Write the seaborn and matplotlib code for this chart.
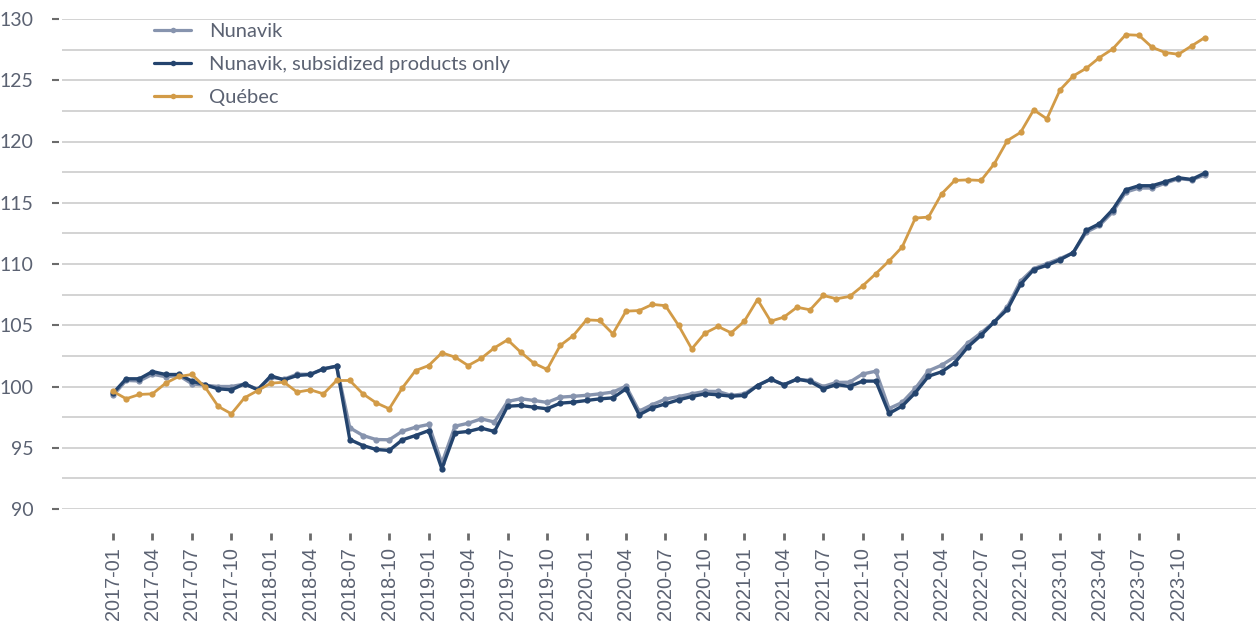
import numpy as np
import pandas as pd
import matplotlib
matplotlib.use("Agg")
import matplotlib.pyplot as plt
from matplotlib.ticker import MultipleLocator, FixedLocator
import seaborn as sns

months = pd.period_range("2017-01", "2023-12", freq="M").strftime("%Y-%m").tolist()

nunavik = [99.27, 100.5, 100.45, 101.0, 100.8, 100.9, 100.22, 100.1, 100.0, 100.0, 100.2, 99.78,
           100.75, 100.6, 101.0, 101.0, 101.44, 101.66, 96.63, 96.0, 95.67, 95.65, 96.35, 96.68,
           96.9, 93.74, 96.76, 97.0, 97.36, 97.1, 98.78, 99.0, 98.86, 98.7, 99.13, 99.2,
           99.28, 99.4, 99.54, 100.03, 97.99, 98.52, 98.97, 99.18, 99.4, 99.6, 99.6, 99.27,
           99.4, 100.08, 100.6, 100.14, 100.6, 100.49, 100.0, 100.33, 100.35, 101.02, 101.25, 98.2,
           98.7, 99.84, 101.28, 101.74, 102.42, 103.56, 104.38, 105.27, 106.5, 108.6, 109.62, 110.03,
           110.44, 110.92, 112.6, 113.15, 114.24, 115.87, 116.2, 116.2, 116.6, 116.96, 116.87, 117.26]

nunavik_sub = [99.45, 100.63, 100.63, 101.22, 100.98, 100.98, 100.44, 100.13, 99.81, 99.73, 100.22, 99.73,
               100.87, 100.54, 100.9, 100.98, 101.44, 101.66, 95.67, 95.18, 94.86, 94.78, 95.65, 96.0,
               96.4, 93.28, 96.22, 96.33, 96.6, 96.33, 98.39, 98.45, 98.31, 98.18, 98.64, 98.72,
               98.86, 98.99, 99.07, 99.81, 97.69, 98.26, 98.58, 98.91, 99.18, 99.4, 99.32, 99.21,
               99.27, 100.08, 100.6, 100.14, 100.6, 100.41, 99.81, 100.16, 100.0, 100.44, 100.44, 97.8,
               98.4, 99.49, 100.84, 101.2, 101.93, 103.24, 104.19, 105.27, 106.3, 108.34, 109.54, 109.89,
               110.35, 110.92, 112.75, 113.29, 114.43, 116.06, 116.39, 116.39, 116.71, 117.04, 116.9, 117.42]

quebec = [99.6, 99.0, 99.35, 99.4, 100.27, 100.82, 100.98, 99.95, 98.37, 97.77, 99.08, 99.67,
          100.27, 100.35, 99.54, 99.73, 99.4, 100.49, 100.49, 99.4, 98.67, 98.18, 99.89, 101.3,
          101.71, 102.75, 102.4, 101.71, 102.3, 103.16, 103.81, 102.8, 101.9, 101.39, 103.35, 104.16,
          105.44, 105.39, 104.3, 106.15, 106.2, 106.7, 106.6, 104.98, 103.07, 104.35, 104.9, 104.38,
          105.33, 107.1, 105.33, 105.66, 106.47, 106.26, 107.43, 107.16, 107.35, 108.22, 109.21, 110.25,
          111.39, 113.75, 113.83, 115.73, 116.82, 116.87, 116.82, 118.18, 120.08, 120.74, 122.58, 121.85,
          124.21, 125.35, 125.98, 126.85, 127.55, 128.72, 128.67, 127.69, 127.26, 127.12, 127.8, 128.48]

series_names = ["Nunavik", "Nunavik, subsidized products only", "Québec"]
colors = ["#8794ae", "#24446e", "#d29b47"]
y_ticks = [90, 95, 100, 105, 110, 115, 120, 125, 130]

idx = np.arange(len(months))
df = pd.DataFrame({
    "idx": np.tile(idx, 3),
    "value": nunavik + nunavik_sub + quebec,
    "series": np.repeat(series_names, len(months)),
})

sns.set_theme(style="white")
plt.rcParams["font.family"] = ["Lato", "DejaVu Sans"]
text_color = "#5b6272"

fig = plt.figure(figsize=(12.56, 6.24), dpi=100)
ax = fig.add_axes([62 / 1256, 1 - 509 / 624, 1 - 62 / 1256, (509 - 19) / 624])

sns.lineplot(data=df, x="idx", y="value", hue="series", hue_order=series_names,
             palette=dict(zip(series_names, colors)), marker="o", markersize=4.5,
             markeredgewidth=0, linewidth=2.3, ax=ax, legend=True)
for ln, lw in zip(ax.lines[:3], [2.4, 2.4, 2.0]):
    ln.set_linewidth(lw)

for s in ax.spines.values():
    s.set_visible(False)
ax.spines["bottom"].set_position(("outward", 17.3))
ax.spines["left"].set_position(("outward", 2.2))

ax.set_xlim(-3.88, 86.9)
ax.set_ylim(90, 130)
ax.yaxis.set_major_locator(FixedLocator(y_ticks))
ax.yaxis.set_minor_locator(MultipleLocator(2.5))
ax.grid(False)
ax.grid(axis="y", which="both", color="#d0d0d0", linewidth=1.3)
ax.set_axisbelow(True)

tick_pos = idx[::3]
ax.set_xticks(tick_pos)
ax.set_xticklabels([months[i] for i in tick_pos])
ax.set_yticks(y_ticks)
ax.set_yticklabels([str(v) for v in y_ticks])
for lab in ax.get_xticklabels():
    lab.set_rotation(90)
    lab.set_family(["Liberation Sans", "DejaVu Sans"])
    lab.set_fontsize(14.3)
    lab.set_color(text_color)
for lab in ax.get_yticklabels():
    lab.set_fontsize(14)
    lab.set_color(text_color)

ax.tick_params(axis="x", which="major", direction="out", length=5, width=2.0, color="#6b6b6b",
               pad=5, bottom=True)
ax.tick_params(axis="y", which="major", direction="out", length=5, width=1.5, color="#6b6b6b",
               pad=13.5, left=True)
ax.tick_params(axis="y", which="minor", length=0)
ax.set_xlabel("")
ax.set_ylabel("")

leg = ax.legend(loc="upper left", bbox_to_anchor=(0.062, 1.029), frameon=False, fontsize=14.5,
                handlelength=1.84, handletextpad=0.9, labelspacing=0.8)
for t in leg.get_texts():
    t.set_color(text_color)
for h in leg.legend_handles:
    h.set_markersize(4)

fig.savefig("out.png", dpi=100)
